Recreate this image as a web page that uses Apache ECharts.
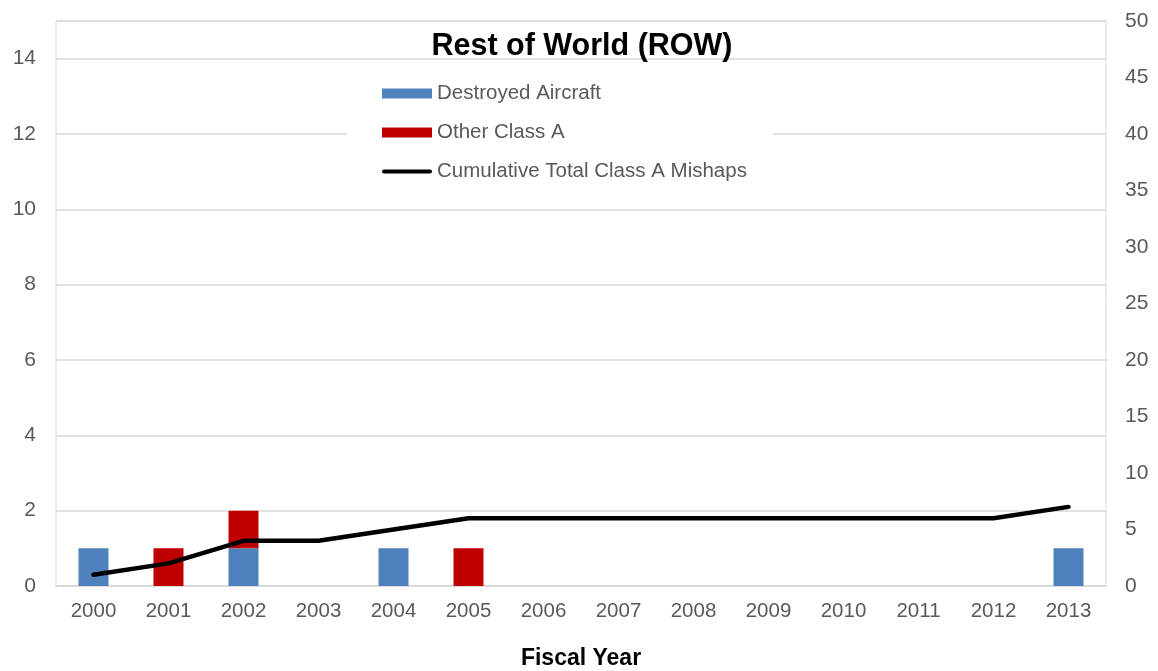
<!DOCTYPE html>
<html>
<head>
<meta charset="utf-8">
<script src="https://cdn.jsdelivr.net/npm/echarts@6/dist/echarts.min.js"></script>
<style>
  html, body { margin: 0; padding: 0; background: #fff; }
  #chart { width: 1158px; height: 671px; }
</style>
</head>
<body>
<div id="chart"></div>
<script>
// Fiscal years on the category axis
const years = ['2000', '2001', '2002', '2003', '2004', '2005', '2006', '2007', '2008', '2009', '2010', '2011', '2012', '2013'];
// Mishaps per year (left axis)
const destroyedAircraft = [1, 0, 1, 0, 1, 0, 0, 0, 0, 0, 0, 0, 0, 1];
const otherClassA = [0, 1, 1, 0, 0, 1, 0, 0, 0, 0, 0, 0, 0, 0];
// Running total of Class A mishaps (right axis)
const cumulativeTotal = [1, 2, 4, 4, 5, 6, 6, 6, 6, 6, 6, 6, 6, 7];

const FONT = '"Liberation Sans", Arial, sans-serif';
const TEXT = '#595959';
const GRID = '#D9D9D9';

// thick round-capped stroke used as the legend key for the cumulative line
const LINE_ICON = 'path://M2,0 H48 A2,2 0 0 1 48,4 H2 A2,2 0 0 1 2,0 Z';

const chart = echarts.init(document.getElementById('chart'), null, { renderer: 'canvas' });

chart.setOption({
  backgroundColor: '#fff',
  animation: false,
  textStyle: { fontFamily: FONT },
  title: {
    text: 'Rest of World (ROW)',
    left: 577,
    textAlign: 'center',
    top: 26,
    textStyle: { fontFamily: FONT, fontSize: 30.5, fontWeight: 'bold', color: '#000' }
  },
  legend: {
    orient: 'vertical',
    left: 347,
    top: 73,
    padding: [10, 26, 10, 35],
    backgroundColor: '#fff',
    itemWidth: 50,
    itemHeight: 10,
    itemGap: 18,
    symbolKeepAspect: true,
    textStyle: { fontFamily: FONT, fontSize: 20.5, color: TEXT, lineHeight: 20 },
    data: [
      { name: 'Destroyed Aircraft', icon: 'rect' },
      { name: 'Other Class A', icon: 'rect' },
      { name: 'Cumulative Total Class A Mishaps', icon: LINE_ICON, itemStyle: { color: '#000' } }
    ]
  },
  grid: {
    left: 56,
    right: 52,
    top: 21,
    bottom: 85,
    show: true,
    borderColor: GRID,
    borderWidth: 1,
    containLabel: false,
    outerBoundsMode: 'none'
  },
  xAxis: {
    type: 'category',
    data: years,
    axisLine: { show: true, lineStyle: { color: GRID, width: 1.5 } },
    axisTick: { show: false },
    axisLabel: { fontFamily: FONT, fontSize: 20.5, color: TEXT, margin: 15 },
    name: 'Fiscal Year',
    nameLocation: 'middle',
    nameGap: 61,
    nameTextStyle: { fontFamily: FONT, fontSize: 23, fontWeight: 'bold', color: '#000' }
  },
  yAxis: [
    {
      type: 'value',
      min: 0,
      max: 15,
      interval: 2,
      axisLine: { show: false },
      axisTick: { show: false },
      axisLabel: { fontFamily: FONT, fontSize: 21, color: TEXT, margin: 20, showMaxLabel: false },
      splitLine: { show: true, lineStyle: { color: GRID, width: 1.5 } }
    },
    {
      type: 'value',
      min: 0,
      max: 50,
      interval: 5,
      position: 'right',
      axisLine: { show: false },
      axisTick: { show: false },
      axisLabel: { fontFamily: FONT, fontSize: 21, color: TEXT, margin: 19 },
      splitLine: { show: false }
    }
  ],
  series: [
    {
      name: 'Destroyed Aircraft',
      type: 'bar',
      stack: 'mishaps',
      yAxisIndex: 0,
      barWidth: 30,
      itemStyle: { color: '#4F81BD' },
      data: destroyedAircraft
    },
    {
      name: 'Other Class A',
      type: 'bar',
      stack: 'mishaps',
      yAxisIndex: 0,
      barWidth: 30,
      itemStyle: { color: '#C00000' },
      data: otherClassA
    },
    {
      name: 'Cumulative Total Class A Mishaps',
      type: 'line',
      yAxisIndex: 1,
      symbol: 'none',
      z: 5,
      lineStyle: { color: '#000', width: 4.5, cap: 'round', join: 'round' },
      itemStyle: { color: '#000' },
      data: cumulativeTotal
    }
  ]
});
</script>
</body>
</html>
